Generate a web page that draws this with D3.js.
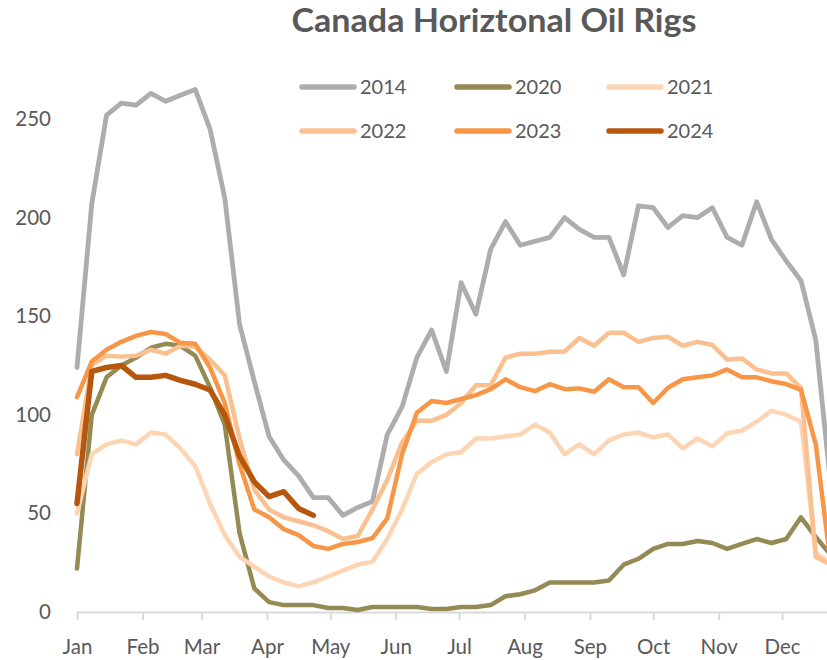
<!DOCTYPE html>
<html>
<head>
<meta charset="utf-8">
<script src="https://cdn.jsdelivr.net/npm/d3@7"></script>
<style>
  html, body { margin: 0; padding: 0; background: #fff; }
  svg { display: block; font-family: Lato, "Open Sans", sans-serif; }
</style>
</head>
<body>
<svg id="chart" width="827" height="660"></svg>
<script>
// ---- data (weekly, week 0 = first week of January) ----
const months = ["Jan","Feb","Mar","Apr","May","Jun","Jul","Aug","Sep","Oct","Nov","Dec"];
const monthStartDays = [0,31,59,90,120,151,181,212,243,273,304,334];
const yTicks = [0, 50, 100, 150, 200, 250];
const seriesNames = ["2014","2020","2021","2022","2023","2024"];

const rigs2014 = [124,207,252,258,257,263,259,262,265,245,210,146,117,89,77,69,58,58,49,53,56,90,104,129,143,122,167,151,184,198,186,188,190,200,194,190,190,171,206,205,195,201,200,205,190,186,208,189,178,168,138,65];
const rigs2020 = [22,100,119,125,129,134,136,135,130,114,95,40,12,5,3.5,3.5,3.5,2,2,1,2.5,2.5,2.5,2.5,1.5,1.5,2.5,2.5,3.5,8,9,11,15,15,15,15,16,24,27,32,34.5,34.5,36,35,32,34.5,37,35,37,48,38,29];
const rigs2021 = [50,80,85,87,85,91,90,83,74,55,39,28,23,18,15,13,15,18,21,24,25.5,37,52,70,76,80,81,88,88,89,90,95,91,80,85,80,87,90,91,88.6,90,83,88,84,90.6,92,96.5,102,100,96.5,30,25];
const rigs2022 = [80,125,130,129.5,130,133,131,135,134.5,128,120,88,62,52,48,46,44,41,37,38.5,52,67,86,97,97,100,106,115,115,129,131,131,132,132,139,135,141.6,141.6,137,139,139.6,135,137,135.4,128,128.6,123,121,121,113.5,28,24];
const rigs2023 = [109,127,133,137,140,142,141,136.5,136,124,106,75,52,48,42,39,33.5,32,34.5,35.5,37.5,47.5,80,101,107,106,108,110,113,118,114,112,115.5,113,113.4,111.7,118,114,114,106,113.7,118,119,120,123,119,119,117,115.6,112.6,85,25];
const rigs2024 = [55,122,124,125,119,119,120,117.5,115.5,112.6,100,79,66,58.5,61,52.5,49];

const seriesValues = [rigs2014, rigs2020, rigs2021, rigs2022, rigs2023, rigs2024];
const seriesColors = ["#ADADAD", "#948A54", "#FCD5B5", "#FAC090", "#F79646", "#B7570D"];
const seriesWidths = [4.8, 4.5, 4.5, 4.5, 4.5, 5.5];

// ---- layout ----
const svg = d3.select("#chart");
const W = 827, H = 660;
const x = d3.scaleLinear().domain([0, 334]).range([77, 782]);
const y = d3.scaleLinear().domain([0, 250]).range([612, 119]);
const textColor = "#595959";

// title
svg.append("text")
  .attr("x", 494).attr("y", 32)
  .attr("text-anchor", "middle")
  .attr("font-size", 32).attr("font-weight", "bold")
  .attr("fill", textColor)
  .attr("textLength", 405).attr("lengthAdjust", "spacingAndGlyphs")
  .text("Canada Horiztonal Oil Rigs");

// y axis labels (no axis line)
const yAxis = d3.axisLeft(y).tickValues(yTicks).tickSize(0).tickPadding(0);
const gy = svg.append("g").attr("transform", "translate(51,0)").call(yAxis);
gy.select(".domain").remove();
gy.selectAll("text").attr("font-size", 20.5).attr("fill", textColor).attr("font-family", "Lato, sans-serif");

// x axis
const xAxis = d3.axisBottom(x)
  .tickValues(monthStartDays)
  .tickFormat((d, i) => months[i])
  .tickSizeInner(8).tickSizeOuter(0).tickPadding(19);
const gx = svg.append("g").attr("transform", "translate(0,612)").call(xAxis);
gx.select(".domain").attr("d", `M77,0.5H${W}`).attr("stroke", "#D9D9D9").attr("stroke-width", 2);
gx.selectAll(".tick line").attr("stroke", "#D9D9D9").attr("stroke-width", 2);
gx.selectAll("text").attr("font-size", 20.5).attr("fill", textColor).attr("font-family", "Lato, sans-serif");

// lines
const line = d3.line()
  .x((d, i) => x(i * 7))
  .y(d => y(d));

seriesValues.forEach((vals, k) => {
  svg.append("path")
    .datum(vals)
    .attr("fill", "none")
    .attr("stroke", seriesColors[k])
    .attr("stroke-width", seriesWidths[k])
    .attr("stroke-linejoin", "round")
    .attr("stroke-linecap", "round")
    .attr("d", line);
});

// legend
const legCols = [300, 455, 607];
const legRows = [87, 131];
seriesNames.forEach((name, k) => {
  const cx = legCols[k % 3], cy = legRows[Math.floor(k / 3)];
  const g = svg.append("g").attr("transform", `translate(${cx},${cy})`);
  g.append("line").attr("x1", 2).attr("x2", 54).attr("y1", 0).attr("y2", 0)
    .attr("stroke", seriesColors[k]).attr("stroke-width", 5.5).attr("stroke-linecap", "round");
  g.append("text").attr("x", 60).attr("y", 0).attr("dy", "0.35em")
    .attr("font-size", 20).attr("fill", textColor).text(name);
});
</script>
</body>
</html>
